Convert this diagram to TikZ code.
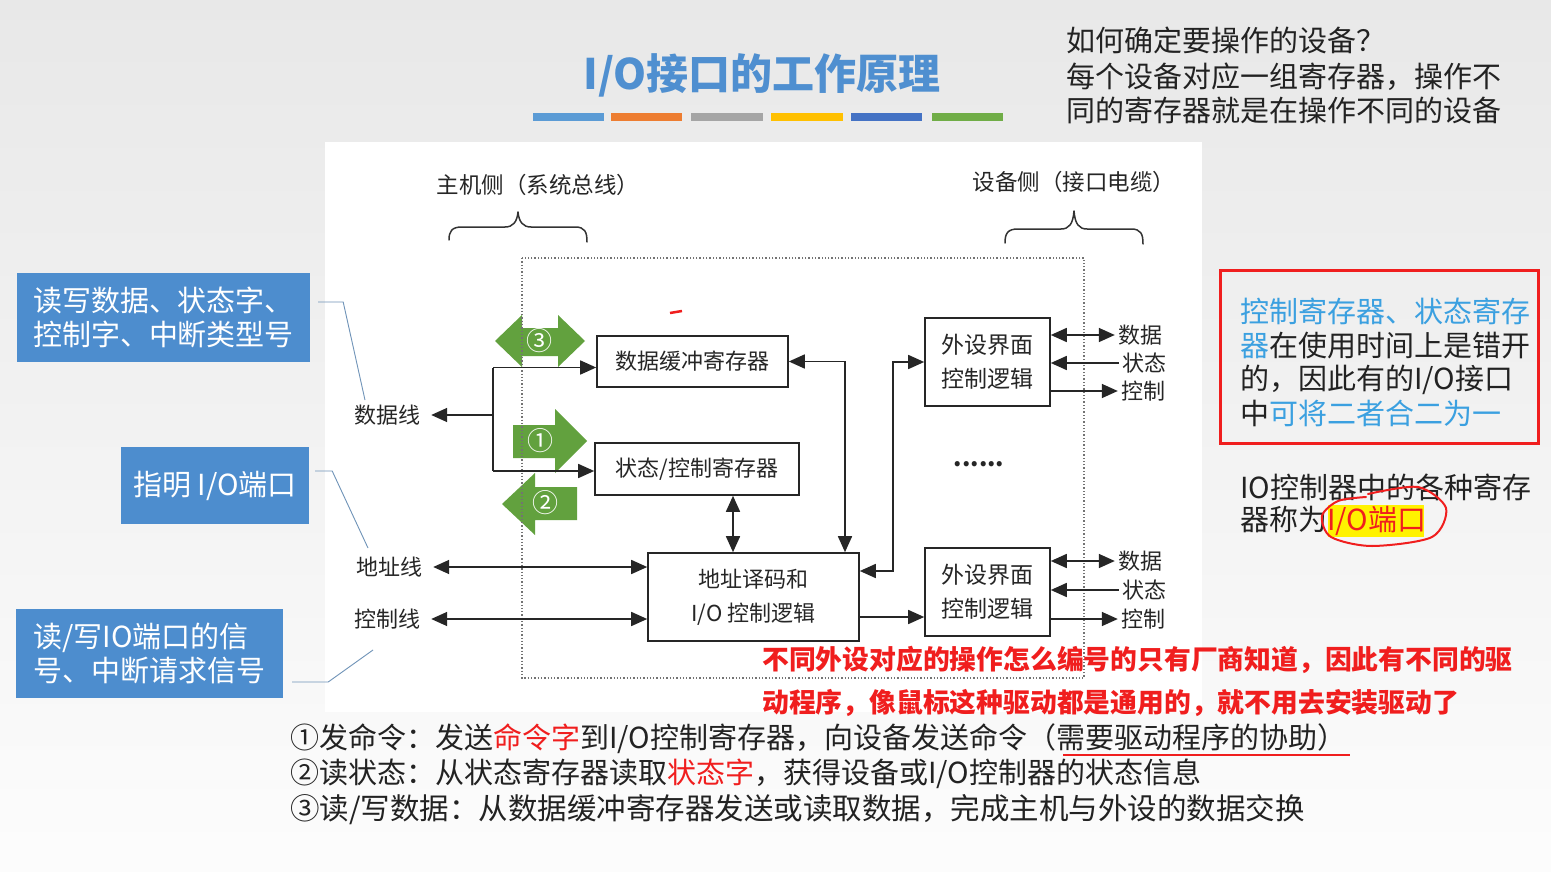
\documentclass[tikz,border=0pt]{standalone}
\usepackage{fontspec}
\setmainfont{Noto Sans CJK SC}
\usetikzlibrary{arrows.meta}
\definecolor{titleblue}{HTML}{4F8FD0}
\definecolor{barA}{HTML}{5B9BD5}
\definecolor{barB}{HTML}{ED7D31}
\definecolor{barC}{HTML}{A5A5A5}
\definecolor{barD}{HTML}{FFC000}
\definecolor{barE}{HTML}{4472C4}
\definecolor{barF}{HTML}{70AD47}
\definecolor{boxblue}{HTML}{4D8DCE}
\definecolor{garrow}{HTML}{62A13E}
\definecolor{lightblue}{HTML}{3BA0E0}
\definecolor{annred}{HTML}{F01E1E}
\definecolor{annline}{HTML}{6F93B8}
\definecolor{ink}{HTML}{222222}
\newcommand\fsz[2]{\fontsize{#1pt}{#2pt}\selectfont}
\begin{document}
\begin{tikzpicture}[x=1pt,y=-1pt,
  box/.style={draw=black!85,line width=1.6pt,fill=white,inner sep=0pt,align=center,text=black!85},
  lbl/.style={inner ysep=1pt,inner xsep=11pt,text=black!85,font=\fsz{22}{26}},
  sig/.style={inner ysep=1pt,inner xsep=3pt,text=black!85,font=\fsz{22}{26}},
  wire/.style={line width=1.6pt,draw=black!85},
  arr/.style={wire,-{Triangle[length=16pt,width=14pt]}},
  darr/.style={wire,{Triangle[length=16pt,width=14pt]}-{Triangle[length=16pt,width=14pt]}},
  bluebox/.style={fill=boxblue,text=white,inner sep=0pt,align=left,font=\fsz{29}{34.5}},
  annot/.style={draw=annline,line width=0.9pt},
  gnum/.style={text=white,font=\fsz{26}{26},inner sep=0pt},
  txt/.style={anchor=west,inner sep=0pt,text=ink,font=\fsz{29}{34}},
  redtxt/.style={anchor=west,inner sep=0pt,text=annred,font=\fsz{26.8}{30}\bfseries},
  brace/.style={line width=1.5pt,draw=black!80,line cap=round,line join=round}
]
\useasboundingbox (0,0) rectangle (1551,872);
% background
\fill[top color=black!9,bottom color=black!1] (0,0) rectangle (1551,872);
\fill[white] (325,142) rectangle (1202,712);

% title
\node[font=\fsz{42}{46}\bfseries,text=titleblue,inner sep=0pt] (title) at (762,75) {I/O接口的工作原理};
\fill[barA] (533,113) rectangle (604,121);
\fill[barB] (611,113) rectangle (682,121);
\fill[barC] (691,113) rectangle (763,121);
\fill[barD] (771,113) rectangle (843,121);
\fill[barE] (851,113) rectangle (922,121);
\fill[barF] (932,113) rectangle (1003,121);

% top right question
\node[txt] (q1) at (1066,40) {如何确定要操作的设备？};
\node[txt] (q2) at (1066,77) {每个设备对应一组寄存器，操作不};
\node[txt] (q3) at (1066,110) {同的寄存器就是在操作不同的设备};

% side headings and braces
\node[sig,font=\fsz{22.5}{24}] (host) at (538,185) {主机侧（系统总线）};
\node[sig,font=\fsz{22.5}{24}] (dev) at (1074,182) {设备侧（接口电缆）};
\draw[brace] (449,240) .. controls (449,231) and (452,227) .. (462,227) -- (505,227)
  .. controls (513,227) and (517,222) .. (518,212) .. controls (519,222) and (523,227) .. (531,227)
  -- (575,227) .. controls (585,227) and (587,232) .. (587,242);
\draw[brace] (1005,243) .. controls (1005,233) and (1008,229) .. (1018,229) -- (1061,229)
  .. controls (1069,229) and (1073,224) .. (1074,211) .. controls (1075,224) and (1079,229) .. (1087,229)
  -- (1131,229) .. controls (1141,229) and (1143,234) .. (1143,244);

% green arrows
\fill[garrow] (495,341) -- (522,315) -- (522,328) -- (558,328) -- (558,315) -- (585,341)
  -- (558,367) -- (558,356) -- (522,356) -- (522,367) -- cycle;
\fill[garrow] (513,425) -- (555,425) -- (555,409) -- (587,441) -- (555,473) -- (555,458) -- (513,458) -- cycle;
\fill[garrow] (502,504) -- (535,473) -- (535,487) -- (577,487) -- (577,520) -- (535,520) -- (535,535) -- cycle;

% dotted interface boundary
\draw[dotted,draw=black!55,line width=1.3pt] (522,258) rectangle (1084,678);

% red stray mark
\draw[annred,line width=2.5pt] (670,313) -- (682,311);

% boxes
\node[box,minimum width=191pt,minimum height=51pt,font=\fsz{22}{26}] (dbuf) at (692.5,361.5) {数据缓冲寄存器};
\node[box,minimum width=204pt,minimum height=52pt,font=\fsz{22}{26}] (sreg) at (697,469) {状态/控制寄存器};
\node[box,minimum width=211pt,minimum height=88pt,font=\fsz{22}{34}] (adec) at (753.5,597) {地址译码和\\I/O 控制逻辑};
\node[box,minimum width=125pt,minimum height=88pt,font=\fsz{23}{34}] (pe1) at (987.5,362) {外设界面\\控制逻辑};
\node[box,minimum width=125pt,minimum height=88pt,font=\fsz{23}{34}] (pe2) at (987.5,592) {外设界面\\控制逻辑};
\node[sig,font=\fsz{24}{26}\bfseries] (dots) at (979,464) {......};

% left labels
\node[lbl] (dl) at (387,415) {数据线};
\node[lbl] (al) at (389,567) {地址线};
\node[lbl] (cl) at (387,619) {控制线};

% data line
\coordinate (ja) at (493,367.5);
\coordinate (jb) at (493,471);
\draw[wire] (ja) -- (jb);
\draw[arr] (ja |- dl) -- (dl.east);
\draw[arr] (ja) -- (ja -| dbuf.west);
\draw[arr] (jb) -- (jb -| sreg.west);
% address and control lines
\draw[darr] (al.east) -- (al.east -| adec.west);
\draw[darr] (cl.east) -- (cl.east -| adec.west);
% internal connections
\draw[darr] ([xshift=36pt]sreg.south) -- ([xshift=36pt]sreg.south |- adec.north);
\draw[darr] (dbuf.east) -| ([xshift=91.5pt]adec.north);
\draw[darr] ([yshift=26pt]adec.east) -- ++(33,0) |- (pe1.west);
\draw[arr] ([yshift=-20pt]adec.east) -- ([yshift=-20pt]adec.east -| pe2.west);

% device side signals
\node[sig] (d1) at (1140,335) {数据};
\node[sig] (s1) at (1144,363) {状态};
\node[sig] (c1) at (1143,391) {控制};
\node[sig] (d2) at (1140,561) {数据};
\node[sig] (s2) at (1144,590) {状态};
\node[sig] (c2) at (1143,619) {控制};
\draw[darr] (d1.west -| pe1.east) -- (d1.west);
\draw[arr] (s1.west) -- (s1.west -| pe1.east);
\draw[arr] (c1.west -| pe1.east) -- (c1.west);
\draw[darr] (d2.west -| pe2.east) -- (d2.west);
\draw[arr] (s2.west) -- (s2.west -| pe2.east);
\draw[arr] (c2.west -| pe2.east) -- (c2.west);

% numbers in green arrows
\node[gnum] (n3) at (539,341) {③};
\node[gnum] (n1) at (540,441) {①};
\node[gnum] (n2) at (545,503) {②};

% left blue annotation boxes
\node[bluebox,minimum width=293pt,minimum height=89pt] (b1) at (163.5,317.5) {读写数据、状态字、\\控制字、中断类型号};
\node[bluebox,minimum width=188pt,minimum height=77pt] (b2) at (215,485.5) {指明 I/O端口};
\node[bluebox,minimum width=267pt,minimum height=89pt] (b3) at (149.5,653.5) {读/写IO端口的信\\号、中断请求信号};
\coordinate (e1) at (365,400);
\coordinate (e2) at (368,548);
\coordinate (e3) at (373,650);
\draw[annot] ([xshift=8pt,yshift=15.5pt]b1.east) -- ++(25,0) -- (e1);
\draw[annot] ([xshift=6pt,yshift=14.5pt]b2.east) -- ++(17,0) -- (e2);
\draw[annot] ([xshift=9pt,yshift=-28.5pt]b3.east) -- ++(36,0) -- (e3);

% right red box note
\node[draw=annred,line width=3pt,minimum width=318pt,minimum height=173pt,inner sep=0pt] (rbox) at (1379,356.5) {};
\node[txt] (r1) at (1240,311) {\textcolor{lightblue}{控制寄存器、状态寄存}};
\node[txt] (r2) at (1240,346) {\textcolor{lightblue}{器}在使用时间上是错开};
\node[txt] (r3) at (1240,380) {的，因此有的I/O接口};
\node[txt] (r4) at (1240,413) {中\textcolor{lightblue}{可将二者合二为一}};

% IO port note
\fill[yellow] (1328,505) rectangle (1424,537);
\node[txt] (p1) at (1240,487) {IO控制器中的各种寄存};
\node[txt] (p2) at (1240,521) {器称为\textcolor{annred}{I/O端口}};
\draw[annred,line width=2pt,line cap=round] plot[smooth] coordinates {(1368,494) (1418,487) (1446,508) (1432,537) (1372,546) (1331,537) (1322,516) (1338,501) (1366,497)};

% red remark
\node[redtxt] (m1) at (762,660) {不同外设对应的操作怎么编号的只有厂商知道，因此有不同的驱};
\node[redtxt] (m2) at (762,703) {动程序，像鼠标这种驱动都是通用的，就不用去安装驱动了};

% bottom steps
\node[txt] (t1) at (290,739) {①发命令：发送\textcolor{annred}{命令字}到I/O控制寄存器，向设备发送命令（需要驱动程序的协助）};
\node[txt] (t2) at (290,774) {②读状态：从状态寄存器读取\textcolor{annred}{状态字}，获得设备或I/O控制器的状态信息};
\node[txt,font=\fsz{29.5}{34}] (t3) at (290,810) {③读/写数据：从数据缓冲寄存器发送或读取数据，完成主机与外设的数据交换};
\draw[annred,line width=2.5pt] (1063,755) -- (1350,755);
\end{tikzpicture}
\end{document}
